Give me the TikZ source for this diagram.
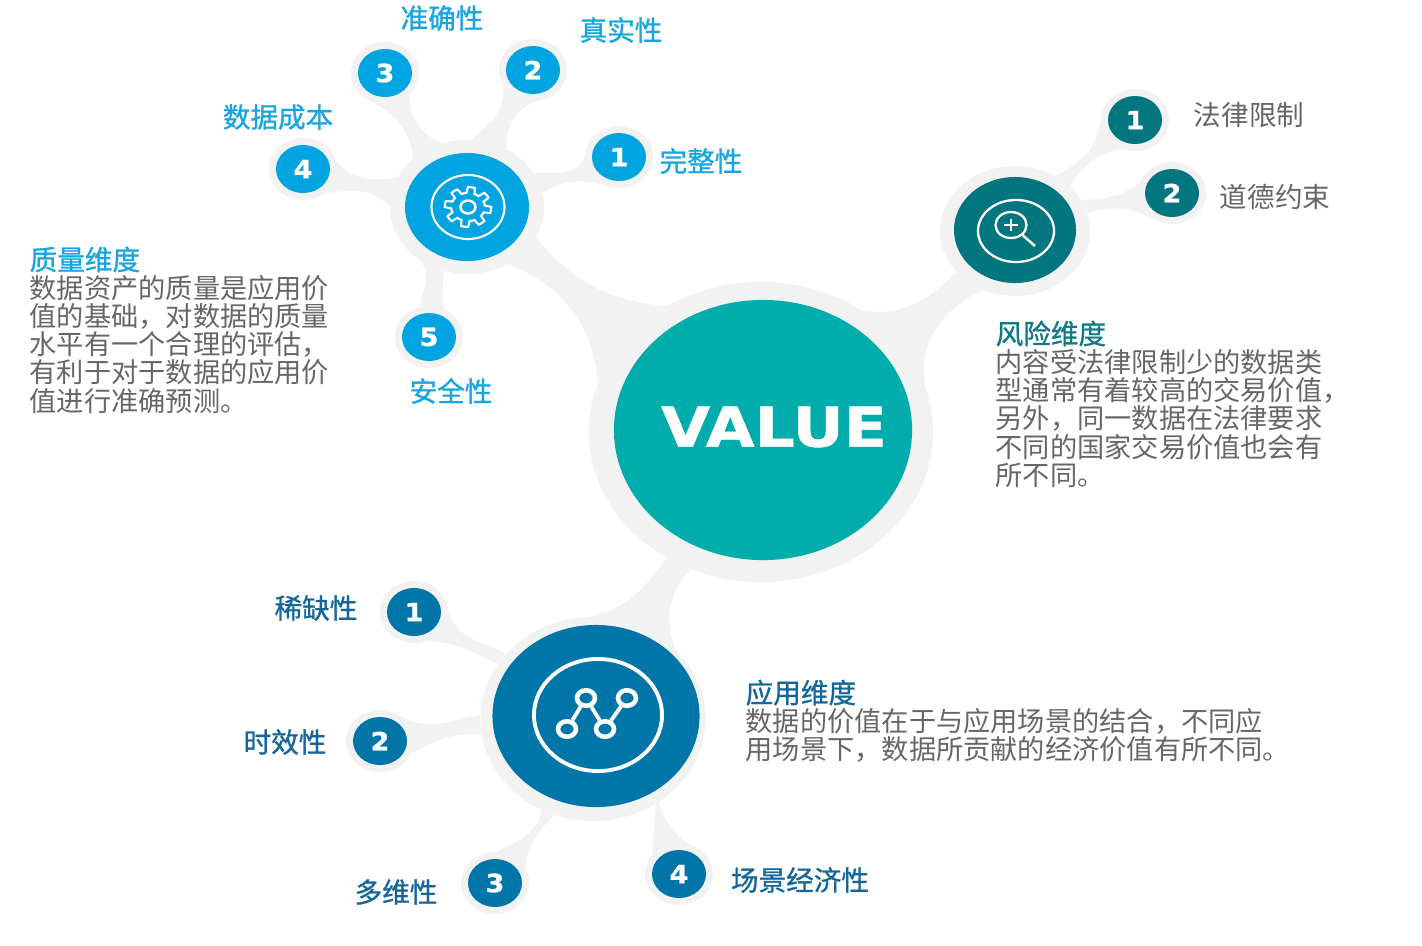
\documentclass[tikz,border=0pt]{standalone}
\usepackage{fontspec}
\usepackage{xcolor}
\setmainfont{Noto Sans CJK SC}
\newfontfamily\labelfont[FakeBold=1.0]{Noto Sans CJK SC}
\newfontfamily\digitfont[FakeStretch=1.08, FakeBold=1.2]{DejaVu Sans Bold}
\newfontfamily\valuefont[FakeStretch=1.15, FakeBold=1.0]{DejaVu Sans Bold}
\usetikzlibrary{arrows.meta, positioning, shapes.geometric}
\definecolor{vlhalo}{HTML}{F2F2F2}
\definecolor{vlmain}{HTML}{00ADAC}
\definecolor{vlcyan}{HTML}{00A4E0}
\definecolor{vlteal}{HTML}{02767F}
\definecolor{vlblue}{HTML}{0076A8}
\definecolor{vlcyantext}{HTML}{16A5E0}
\definecolor{vltealtext}{HTML}{0F7A85}
\definecolor{vlbluetext}{HTML}{14669A}
\definecolor{vlgraytext}{HTML}{666666}

\begin{document}
\begin{tikzpicture}[
  x=0.01cm, y=-0.01cm,
  halobox/.style={ellipse, fill=vlhalo, inner sep=0pt},
  smallhalo/.style={halobox, minimum width=0.68cm, minimum height=0.62cm},
  branch/.style={fill=vlhalo},
  bigball/.style={ellipse, fill=#1, inner sep=0pt},
  smallball/.style={ellipse, fill=#1, inner sep=0pt, minimum width=0.54cm, minimum height=0.48cm, text=white, font=\digitfont\fontsize{7.1}{8}\selectfont},
  ring/.style={ellipse, draw=white, line width=#1, inner sep=0pt},
  iconline/.style={draw=white, line width=#1},
  dot/.style={ellipse, draw=white, line width=1.3pt, inner sep=0pt, minimum width=0.18cm, minimum height=0.155cm},
  label/.style={text=#1, inner sep=0pt, font=\labelfont\fontsize{7.85}{8}\selectfont},
  plainlabel/.style={text=vlgraytext, inner sep=0pt, font=\fontsize{7.85}{8}\selectfont},
  para/.style={text=vlgraytext, inner sep=0pt, align=left, anchor=north west, font=\fontsize{7.74}{8.03}\selectfont},
]
\useasboundingbox (0,0) rectangle (1422,945);

% Halos
\node[halobox, minimum width=3.44cm, minimum height=3.00cm] (valuehalo) at (761,432) {};
\node[halobox, minimum width=1.54cm, minimum height=1.34cm] (gearhalo) at (467,207) {};
\node[halobox, minimum width=1.50cm, minimum height=1.30cm] (riskhalo) at (1015,231) {};
\node[halobox, minimum width=2.25cm, minimum height=2.04cm] (charthalo) at (593,719) {};
\node[smallhalo] (ca) at (619,157) {};
\node[smallhalo] (cb) at (533,70) {};
\node[smallhalo] (cc) at (385,73) {};
\node[smallhalo] (cd) at (303,169) {};
\node[smallhalo] (ce) at (429,337) {};
\node[smallhalo] (ta) at (1135,120) {};
\node[smallhalo] (tb) at (1172,193) {};
\node[smallhalo] (ba) at (414,612) {};
\node[smallhalo] (bb) at (380,741) {};
\node[smallhalo] (bc) at (495,883) {};
\node[smallhalo] (bd) at (679,874) {};

% Main branches
\fill[branch] (gearhalo.-24) to[out=-50, in=175] (valuehalo.127) -- (valuehalo.163) to[out=95, in=-22] (gearhalo.-54) -- cycle;
\fill[branch] (valuehalo.50) to[out=-10, in=225] (riskhalo.-145) -- (riskhalo.-119) to[out=205, in=100] (valuehalo.16) -- cycle;
\fill[branch] (valuehalo.-127) to[out=-125, in=10] (charthalo.92) -- (charthalo.41) to[out=110, in=-135] (valuehalo.-117) -- cycle;

% Quality branches
\fill[branch] (gearhalo.27) to[out=0, in=-110] (ca.180) -- (ca.-122) to[out=165, in=30] (gearhalo.11) -- cycle;
\fill[branch] (gearhalo.86) to[out=40, in=-85] (cb.-151) -- (cb.-82) to[out=195, in=95] (gearhalo.56) -- cycle;
\fill[branch] (gearhalo.138) to[out=95, in=-30] (cc.-109) -- (cc.-42) to[out=-95, in=160] (gearhalo.111) -- cycle;
\fill[branch] (cd.12) to[out=-50, in=190] (gearhalo.157) -- (gearhalo.180) to[out=130, in=10] (cd.-49) -- cycle;
\fill[branch] (gearhalo.-132) to[out=-40, in=85] (ce.105) -- (ce.60) to[out=110, in=-90] (gearhalo.-110) -- cycle;

% Risk branches
\fill[branch] (riskhalo.54) to[out=25, in=-100] (ta.-175) -- (ta.-114) to[out=185, in=52] (riskhalo.40) -- cycle;
\fill[branch] (riskhalo.25) to[out=0, in=215] (tb.164) -- (tb.-130) to[out=150, in=15] (riskhalo.14) -- cycle;

% Application branches
\fill[branch] (ba.-2) to[out=-70, in=155] (charthalo.143) -- (charthalo.150) to[out=155, in=0] (ba.-66) -- cycle;
\fill[branch] (bb.48) to[out=-30, in=190] (charthalo.178) -- (charthalo.188) to[out=175, in=30] (bb.-22) -- cycle;
\fill[branch] (bc.86) to[out=25, in=-105] (charthalo.-119) -- (charthalo.-112) to[out=225, in=85] (bc.27) -- cycle;
\fill[branch] (charthalo.-54) to[out=-90, in=90] (bd.142) -- (bd.70) to[out=150, in=-70] (charthalo.-52) -- cycle;

% Big balls
\node[bigball=vlmain, minimum width=2.98cm, minimum height=2.60cm] (value) at (763,430) {};
\node[text=white, inner sep=0pt, font=\valuefont\fontsize{15.6}{16}\selectfont] (valuetext) at (774,427) {VALUE};
\node[bigball=vlcyan, minimum width=1.24cm, minimum height=1.08cm] (gear) at (467,207) {};
\node[bigball=vlteal, minimum width=1.22cm, minimum height=1.06cm] (risk) at (1015,230) {};
\node[bigball=vlblue, minimum width=2.07cm, minimum height=1.82cm] (chart) at (596,716) {};

% Small balls
\node[smallball=vlcyan] (n1) at (619,157) {1};
\node[smallball=vlcyan] (n2) at (533,70) {2};
\node[smallball=vlcyan] (n3) at (385,73) {3};
\node[smallball=vlcyan] (n4) at (303,169) {4};
\node[smallball=vlcyan] (n5) at (429,337) {5};
\node[smallball=vlteal] (r1) at (1135,120) {1};
\node[smallball=vlteal] (r2) at (1172,193) {2};
\node[smallball=vlblue] (a1) at (414,612) {1};
\node[smallball=vlblue] (a2) at (380,741) {2};
\node[smallball=vlblue] (a3) at (495,883) {3};
\node[smallball=vlblue] (a4) at (679,874) {4};

% Gear icon
\node[ring=0.6pt, minimum width=0.73cm, minimum height=0.64cm] (gearring) at (468,207) {};
\node[ring=0.7pt, minimum width=0.15cm, minimum height=0.13cm] (gearhub) at (468,207) {};
\draw[iconline=0.6pt] plot[domain=0:360, samples=193] ({468+(20+3.2*max(-1,min(1,3*sin(8*\x+22))))*cos(\x)}, {207+(17+2.9*max(-1,min(1,3*sin(8*\x+22))))*sin(\x)}) -- cycle;

% Magnifier icon
\node[ring=0.65pt, minimum width=0.76cm, minimum height=0.62cm] (lensring) at (1016,231) {};
\node[ring=0.65pt, minimum width=0.31cm, minimum height=0.26cm] (lens) at (1011,225) {};
\coordinate (lenstip) at (1035,246);
\draw[iconline=0.7pt] (lens) -- (lenstip);
\coordinate (plusl) at (1004,225);
\coordinate (plusr) at (1018,225);
\coordinate (plust) at (1011,219);
\coordinate (plusb) at (1011,231);
\draw[iconline=0.6pt] (plusl) -- (plusr);
\draw[iconline=0.6pt] (plust) -- (plusb);

% Chart icon
\node[ring=1.1pt, minimum width=1.28cm, minimum height=1.12cm] (chartring) at (598,715) {};
\node[dot] (d1) at (567,729) {};
\node[dot] (d2) at (586,698) {};
\node[dot] (d3) at (605,729) {};
\node[dot] (d4) at (627,698) {};
\draw[iconline=1.1pt] (d1) -- (d2);
\draw[iconline=1.1pt] (d2) -- (d3);
\draw[iconline=1.1pt] (d3) -- (d4);

% Quality labels
\node[label=vlcyantext] (l1) at (701,161) {完整性};
\node[label=vlcyantext] (l2) at (621,30) {真实性};
\node[label=vlcyantext] (l3) at (442,18) {准确性};
\node[label=vlcyantext] (l4) at (278,117) {数据成本};
\node[label=vlcyantext] (l5) at (451,391) {安全性};
\node[para] (qualitytext) at (29,246) {{\labelfont\fontsize{7.85}{8.03}\selectfont\color{vlcyantext}质量维度}\\数据资产的质量是应用价\\值的基础，对数据的质量\\水平有一个合理的评估，\\有利于对于数据的应用价\\值进行准确预测。};

% Risk labels
\node[plainlabel] (rl1) at (1249,115) {法律限制};
\node[plainlabel] (rl2) at (1275,197) {道德约束};
\node[para] (risktext) at (995,320) {{\labelfont\fontsize{7.85}{8.03}\selectfont\color{vltealtext}风险维度}\\内容受法律限制少的数据类\\型通常有着较高的交易价值，\\另外，同一数据在法律要求\\不同的国家交易价值也会有\\所不同。};

% Application labels
\node[label=vlbluetext] (al1) at (316,608) {稀缺性};
\node[label=vlbluetext] (al2) at (285,742) {时效性};
\node[label=vlbluetext] (al3) at (396,892) {多维性};
\node[label=vlbluetext] (al4) at (800,880) {场景经济性};
\node[para] (apptext) at (745,679) {{\labelfont\fontsize{7.85}{8.03}\selectfont\color{vlbluetext}应用维度}\\数据的价值在于与应用场景的结合，不同应\\用场景下，数据所贡献的经济价值有所不同。};

\end{tikzpicture}
\end{document}
